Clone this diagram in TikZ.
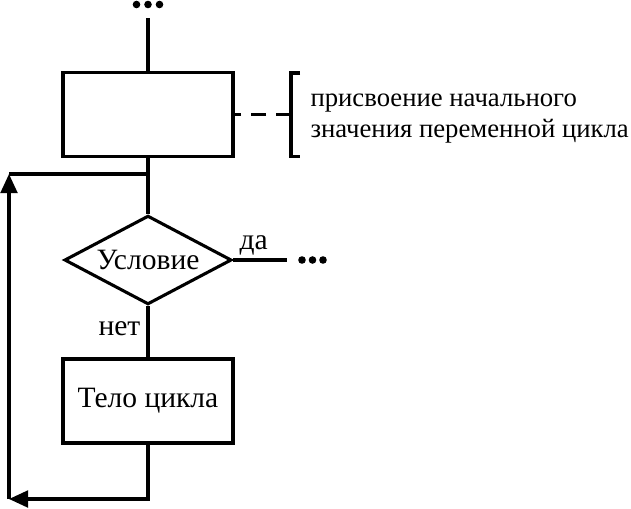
\documentclass[tikz,border=0pt]{standalone}
\usepackage{fontspec}
\setmainfont{Liberation Serif}
\usetikzlibrary{shapes.geometric,arrows.meta}

\begin{document}
\begin{tikzpicture}[x=0.25cm,y=-0.25cm,line width=2.2pt,
  font=\fontsize{21}{22}\selectfont,
  block/.style={draw,rectangle,minimum width=4.25cm,minimum height=2.1cm,inner sep=0pt},
  decision/.style={draw,diamond,aspect=1.88,minimum width=4.18cm,minimum height=2.22cm,inner sep=0pt},
  dot/.style={circle,fill,inner sep=0pt,minimum size=1.9mm},
  back/.style={-{Triangle[length=4.8mm,width=4.2mm]}}]
\useasboundingbox (0,0) rectangle (63.1,50.8);
\node[dot] (d1) at (13.65,0.45) {};
\node[dot] (d2) at (14.8,0.45) {};
\node[dot] (d3) at (15.95,0.45) {};
\coordinate (top) at (14.8,1.8);
\node[block] (init) at (14.8,11.45) {};
\draw (top) -- (init);
\coordinate (brk) at (29.1,11.45);
\draw[dash pattern=on 0.375cm off 0.25cm] (brk) -- (init);
\draw (30.0,7.3) -- (29.1,7.3) -- (29.1,15.65) -- (30.0,15.65);
\node[anchor=west,align=left,inner sep=0pt,font=\fontsize{19}{21.5}\selectfont] (note) at (30.9,11.85) {присвоение начального\\значения переменной цикла};
\node[decision] (cond) at (14.8,26.0) {Условие};
\draw (init) -- (cond);
\coordinate (join) at (14.8,17.4);
\coordinate (cornerT) at (0.9,17.4);
\coordinate (cornerB) at (0.9,49.9);
\draw (join) -- (cornerT);
\coordinate (yesend) at (28.7,26.0);
\draw (cond.east) -- (yesend);
\node[anchor=base west,inner sep=0pt] (yes) at (23.8,24.9) {да};
\node[dot] (d4) at (30.2,26.0) {};
\node[dot] (d5) at (31.25,26.0) {};
\node[dot] (d6) at (32.3,26.0) {};
\node[anchor=base west,inner sep=0pt] (no) at (9.7,33.5) {нет};
\node[block] (body) at (14.8,40.1) {Тело цикла};
\draw (cond) -- (body);
\draw[back] (body.south) |- (cornerB);
\draw[back] (cornerB) -- (cornerT);
\end{tikzpicture}
\end{document}
